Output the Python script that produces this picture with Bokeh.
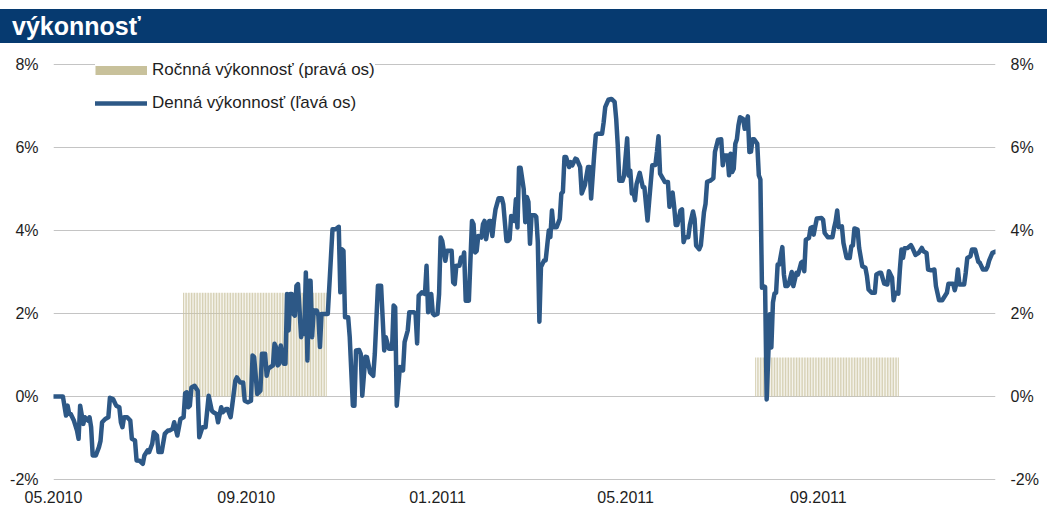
import pandas as pd
from bokeh.plotting import figure
from bokeh.models import (Range1d, FixedTicker, PrintfTickFormatter, DatetimeTickFormatter,
                          LinearAxis, Legend, LegendItem, ColumnDataSource, Div)
from bokeh.layouts import column
from bokeh.embed import file_html
from bokeh.resources import INLINE

TITLE = "výkonnosť"
LEGEND_ROCNA = "Ročnná výkonnosť (pravá os)"
LEGEND_DENNA = "Denná výkonnosť (ľavá os)"

x_start, x_end = "2010-05-01", "2011-12-23"
x_tick_dates = ["2010-05-01", "2010-09-01", "2011-01-01", "2011-05-01", "2011-09-01"]
y_ticks = [-2, 0, 2, 4, 6, 8]

# annual performance (right axis), drawn over a period
rocna_od = ["2010-07-23", "2011-07-23"]
rocna_do = ["2010-10-22", "2011-10-22"]
rocna_hodnota = [2.5, 0.94]

# daily performance (left axis), %
datum = [
    "2010-05-01", "2010-05-07", "2010-05-09", "2010-05-10", "2010-05-11", "2010-05-12", "2010-05-14", "2010-05-16", "2010-05-17", "2010-05-18", "2010-05-20", "2010-05-21", "2010-05-23", "2010-05-24", "2010-05-25", "2010-05-26", "2010-05-28", "2010-05-30", "2010-05-31",
    "2010-06-01", "2010-06-03", "2010-06-05", "2010-06-06", "2010-06-08", "2010-06-10", "2010-06-12", "2010-06-13", "2010-06-14", "2010-06-15", "2010-06-17", "2010-06-19", "2010-06-20", "2010-06-22", "2010-06-23", "2010-06-25", "2010-06-27", "2010-06-28", "2010-06-30",
    "2010-07-01", "2010-07-03", "2010-07-04", "2010-07-06", "2010-07-07", "2010-07-09", "2010-07-11", "2010-07-13", "2010-07-14", "2010-07-16", "2010-07-17", "2010-07-19", "2010-07-20", "2010-07-21", "2010-07-23", "2010-07-24", "2010-07-25", "2010-07-26", "2010-07-27", "2010-07-28", "2010-07-30",
    "2010-08-01", "2010-08-02", "2010-08-04", "2010-08-06", "2010-08-08", "2010-08-10", "2010-08-11", "2010-08-13", "2010-08-14", "2010-08-16", "2010-08-17", "2010-08-19", "2010-08-20", "2010-08-22", "2010-08-23", "2010-08-25", "2010-08-26", "2010-08-28", "2010-08-30", "2010-08-31",
    "2010-09-02", "2010-09-04", "2010-09-05", "2010-09-06", "2010-09-08", "2010-09-10", "2010-09-11", "2010-09-13", "2010-09-14", "2010-09-15", "2010-09-18", "2010-09-19", "2010-09-20", "2010-09-21", "2010-09-22", "2010-09-23", "2010-09-25", "2010-09-26", "2010-09-27", "2010-09-28", "2010-09-29", "2010-09-30",
    "2010-10-01", "2010-10-02", "2010-10-03", "2010-10-04", "2010-10-06", "2010-10-07", "2010-10-08", "2010-10-09", "2010-10-10", "2010-10-11", "2010-10-12", "2010-10-13", "2010-10-14", "2010-10-16", "2010-10-17", "2010-10-18", "2010-10-19", "2010-10-21", "2010-10-23", "2010-10-26", "2010-10-28", "2010-10-30", "2010-10-31",
    "2010-11-01", "2010-11-02", "2010-11-03", "2010-11-05", "2010-11-06", "2010-11-08", "2010-11-09", "2010-11-10", "2010-11-12", "2010-11-13", "2010-11-14", "2010-11-16", "2010-11-17", "2010-11-19", "2010-11-21", "2010-11-22", "2010-11-24", "2010-11-26", "2010-11-28", "2010-11-29",
    "2010-12-01", "2010-12-03", "2010-12-04", "2010-12-05", "2010-12-06", "2010-12-08", "2010-12-10", "2010-12-11", "2010-12-13", "2010-12-14", "2010-12-17", "2010-12-18", "2010-12-19", "2010-12-20", "2010-12-21", "2010-12-22", "2010-12-24", "2010-12-25", "2010-12-26", "2010-12-28", "2010-12-29", "2010-12-30",
    "2011-01-01", "2011-01-02", "2011-01-03", "2011-01-04", "2011-01-06", "2011-01-07", "2011-01-08", "2011-01-10", "2011-01-11", "2011-01-12", "2011-01-13", "2011-01-15", "2011-01-16", "2011-01-17", "2011-01-18", "2011-01-19", "2011-01-21", "2011-01-23", "2011-01-24", "2011-01-25", "2011-01-26", "2011-01-27", "2011-01-29", "2011-01-30", "2011-01-31",
    "2011-02-01", "2011-02-02", "2011-02-03", "2011-02-04", "2011-02-05", "2011-02-06", "2011-02-07", "2011-02-09", "2011-02-11", "2011-02-12", "2011-02-14", "2011-02-15", "2011-02-16", "2011-02-17", "2011-02-18", "2011-02-19", "2011-02-20", "2011-02-21", "2011-02-22", "2011-02-23", "2011-02-25", "2011-02-26", "2011-02-27", "2011-02-28",
    "2011-03-01", "2011-03-02", "2011-03-04", "2011-03-05", "2011-03-06", "2011-03-07", "2011-03-08", "2011-03-10", "2011-03-11", "2011-03-13", "2011-03-14", "2011-03-15", "2011-03-16", "2011-03-18", "2011-03-20", "2011-03-21", "2011-03-22", "2011-03-23", "2011-03-24", "2011-03-26", "2011-03-27", "2011-03-28", "2011-03-30", "2011-03-31",
    "2011-04-02", "2011-04-03", "2011-04-05", "2011-04-07", "2011-04-08", "2011-04-09", "2011-04-11", "2011-04-12", "2011-04-13", "2011-04-16", "2011-04-17", "2011-04-18", "2011-04-20", "2011-04-22", "2011-04-24", "2011-04-25", "2011-04-26", "2011-04-27", "2011-04-29", "2011-04-30",
    "2011-05-02", "2011-05-03", "2011-05-04", "2011-05-05", "2011-05-06", "2011-05-07", "2011-05-08", "2011-05-10", "2011-05-12", "2011-05-13", "2011-05-15", "2011-05-16", "2011-05-18", "2011-05-20", "2011-05-21", "2011-05-22", "2011-05-23", "2011-05-25", "2011-05-26", "2011-05-28", "2011-05-29", "2011-05-30", "2011-05-31",
    "2011-06-01", "2011-06-02", "2011-06-03", "2011-06-05", "2011-06-06", "2011-06-07", "2011-06-08", "2011-06-10", "2011-06-11", "2011-06-13", "2011-06-14", "2011-06-15", "2011-06-17", "2011-06-18", "2011-06-20", "2011-06-21", "2011-06-22", "2011-06-24", "2011-06-26", "2011-06-27", "2011-06-29",
    "2011-07-01", "2011-07-02", "2011-07-03", "2011-07-05", "2011-07-06", "2011-07-07", "2011-07-08", "2011-07-09", "2011-07-10", "2011-07-11", "2011-07-12", "2011-07-13", "2011-07-15", "2011-07-16", "2011-07-18", "2011-07-19", "2011-07-20", "2011-07-21", "2011-07-22", "2011-07-24", "2011-07-25", "2011-07-26", "2011-07-27", "2011-07-28", "2011-07-29", "2011-07-30",
    "2011-08-01", "2011-08-02", "2011-08-03", "2011-08-04", "2011-08-05", "2011-08-06", "2011-08-07", "2011-08-09", "2011-08-10", "2011-08-11", "2011-08-12", "2011-08-13", "2011-08-15", "2011-08-16", "2011-08-18", "2011-08-19", "2011-08-21", "2011-08-22", "2011-08-23", "2011-08-24", "2011-08-26", "2011-08-27", "2011-08-28", "2011-08-29", "2011-08-30", "2011-08-31",
    "2011-09-03", "2011-09-04", "2011-09-05", "2011-09-07", "2011-09-10", "2011-09-11", "2011-09-12", "2011-09-13", "2011-09-14", "2011-09-16", "2011-09-17", "2011-09-19", "2011-09-21", "2011-09-22", "2011-09-23", "2011-09-24", "2011-09-26", "2011-09-27", "2011-09-29",
    "2011-10-01", "2011-10-02", "2011-10-03", "2011-10-05", "2011-10-07", "2011-10-08", "2011-10-10", "2011-10-11", "2011-10-13", "2011-10-15", "2011-10-16", "2011-10-18", "2011-10-19", "2011-10-20", "2011-10-22", "2011-10-23", "2011-10-24", "2011-10-25", "2011-10-26", "2011-10-28", "2011-10-30", "2011-10-31",
    "2011-11-02", "2011-11-04", "2011-11-06", "2011-11-07", "2011-11-09", "2011-11-10", "2011-11-12", "2011-11-14", "2011-11-15", "2011-11-17", "2011-11-19", "2011-11-20", "2011-11-22", "2011-11-23", "2011-11-26", "2011-11-27", "2011-11-28", "2011-11-29", "2011-11-30",
    "2011-12-03", "2011-12-04", "2011-12-05", "2011-12-07", "2011-12-08", "2011-12-10", "2011-12-12", "2011-12-13", "2011-12-15", "2011-12-17", "2011-12-18", "2011-12-19", "2011-12-21", "2011-12-23",
]
denna_vykonnost = [
    0, 0, -0.46, -0.22, -0.42, -0.42, -0.58, -0.82, -1.02, -0.22, -0.66, -0.5, -0.58, -0.5, -0.74, -1.42, -1.42, -1.22, -1.07,
    -0.62, -0.54, -0.5, -0.03, -0.06, -0.22, -0.26, -0.62, -0.74, -0.5, -0.5, -0.58, -1.02, -1.06, -1.54, -1.55, -1.62, -1.42, -1.3,
    -1.34, -1.14, -0.86, -0.94, -1.34, -1.34, -0.9, -0.82, -0.82, -0.78, -0.62, -0.94, -0.74, -0.54, -0.5, 0.08, 0.1, -0.26, -0.22, 0.22, 0.26,
    0.14, -0.98, -0.74, -0.74, 0.02, -0.34, -0.38, -0.42, -0.62, -0.26, -0.38, -0.3, -0.3, -0.5, -0.22, 0.38, 0.46, 0.34, 0.34, -0.1,
    -0.14, -0.1, 0.99, 0.95, 0.06, 0.14, 1.03, 1.03, 0.5, 0.67, 0.75, 1.27, 1.19, 0.75, 0.79, 1.23, 0.79, 0.79, 2.47, 1.59, 2.47, 2.47,
    1.99, 1.95, 2.67, 2.71, 1.43, 1.67, 1.51, 2.99, 0.87, 2.79, 2.79, 1.43, 2.07, 2.07, 1.95, 1.19, 1.99, 1.99, 1.99, 4.03, 4.03, 4.09, 2.51,
    3.55, 3.51, 1.91, 1.91, 1.43, -0.22, -0.22, 1.11, 1.12, 1.03, 0.02, 0.96, 0.95, 0.58, 0.5, 1.03, 2.67, 2.67, 1.11, 1.43,
    1.15, 1.15, 2.19, 2.15, -0.22, 0.71, 0.63, 1.31, 1.59, 2.03, 2.03, 1.99, 1.28, 2.43, 2.47, 2.51, 2.47, 3.15, 2.03, 2.47, 2.0, 1.96,
    1.99, 2.47, 3.83, 3.75, 3.27, 3.51, 3.51, 3.51, 2.75, 2.71, 3.15, 3.15, 3.35, 3.27, 3.47, 2.31, 2.31, 4.23, 4.15, 3.47, 3.51, 3.87, 3.83, 4.15, 4.23,
    3.79, 4.03, 4.23, 4.23, 3.87, 4.23, 4.51, 4.78, 4.78, 4.63, 3.75, 3.75, 3.79, 4.35, 4.31, 4.23, 4.75, 4.07, 5.51, 5.51, 5.0, 4.2, 4.81, 4.69,
    3.68, 4.37, 4.37, 4.33, 3.72, 1.8, 3.12, 3.28, 3.28, 4.0, 3.84, 4.48, 4.08, 4.08, 4.28, 4.89, 4.93, 5.77, 5.77, 5.53, 5.65, 5.57, 5.73, 5.71,
    5.53, 4.89, 5.09, 5.53, 5.53, 4.77, 5.85, 6.3, 6.33, 6.33, 6.61, 6.97, 7.15, 7.17, 7.1, 6.69, 6.05, 5.2, 5.2, 5.32,
    6.22, 5.32, 5.44, 4.89, 4.93, 4.73, 5.12, 5.39, 5.04, 5.04, 4.24, 4.69, 5.57, 5.58, 5.89, 6.27, 5.37, 5.24, 5.17, 5.17, 4.57, 4.85, 4.91,
    4.57, 4.13, 4.13, 4.48, 4.51, 3.72, 3.84, 3.84, 4.13, 4.46, 4.28, 3.64, 3.55, 3.64, 4.44, 4.64, 5.17, 5.2, 5.26, 5.89, 6.19,
    6.2, 5.57, 5.81, 5.81, 5.33, 5.85, 5.41, 5.49, 6.09, 6.2, 6.53, 6.73, 6.69, 6.45, 6.75, 5.89, 5.9, 6.2, 6.2, 6.09, 5.33, 5.23, 2.62, 2.66, 2.64, -0.07,
    1.98, 1.18, 2.26, 2.48, 2.5, 3.18, 3.18, 3.6, 2.94, 2.66, 2.66, 2.7, 3.0, 2.66, 2.98, 2.94, 3.22, 3.25, 3.02, 3.78, 3.82, 4.06, 4.08, 3.9, 4.1, 4.29,
    4.3, 4.26, 3.94, 3.84, 3.84, 4.06, 4.22, 4.48, 4.08, 4.1, 3.7, 3.34, 3.34, 3.62, 3.64, 4.05, 4.02, 3.58, 3.14,
    3.1, 2.9, 2.58, 2.5, 2.5, 2.94, 2.98, 2.98, 2.72, 2.7, 3.02, 2.86, 2.32, 2.5, 2.48, 3.06, 3.54, 3.34, 3.57, 3.58, 3.65, 3.58,
    3.41, 3.46, 3.58, 3.5, 3.46, 3.06, 3.04, 3.06, 2.66, 2.32, 2.32, 2.38, 2.5, 2.72, 2.72, 2.56, 2.72, 3.06, 2.7,
    2.7, 2.98, 3.34, 3.38, 3.54, 3.54, 3.25, 3.22, 3.06, 3.06, 3.14, 3.28, 3.46, 3.49,
]

FONT = "Liberation Sans"
NAVY = "#063a70"
LINE_BLUE = "#2d5886"
BAR_TAN = "#ccc5a2"
SWATCH_TAN = "#c8c19b"
TEXT = "#1e1e1e"
DAY_MS = 86400000
W = 1047

# ---- title bar ----
title_div = Div(
    text=(f'<div style="height:9px;width:{W}px;"></div>'
          f'<div style="background:{NAVY};width:{W}px;height:34px;color:#ffffff;'
          f'font-family:\'{FONT}\',Arial,sans-serif;font-weight:bold;font-size:25px;'
          f'line-height:34px;padding-left:12px;box-sizing:border-box;">{TITLE}</div>'),
    width=W, height=43, margin=(0, 0, 0, 0))

# ---- plot ----
# y range extends a little past the 8 % and -2 % lines so those grid lines are not clipped
p = figure(width=W, height=463, x_axis_type="datetime",
           x_range=Range1d(pd.Timestamp(x_start), pd.Timestamp(x_end)),
           y_range=Range1d(-2.072, 8.265),
           output_backend="svg", toolbar_location=None,
           min_border_left=53, min_border_right=52, min_border_top=10, min_border_bottom=24)
p.outline_line_color = None
p.background_fill_color = "white"
p.border_fill_color = "white"
p.xgrid.visible = False
p.ygrid.ticker = FixedTicker(ticks=y_ticks)
p.ygrid.grid_line_color = "#c4c4c4"
p.ygrid.grid_line_width = 1.2

# annual bars, one thin bar per day of the period
bar_x, bar_top = [], []
for od, do, h in zip(rocna_od, rocna_do, rocna_hodnota):
    for d in pd.date_range(od, do, freq="D"):
        bar_x.append(d)
        bar_top.append(h)
p.vbar(x=bar_x, top=bar_top, bottom=0, width=0.5 * DAY_MS,
       fill_color=BAR_TAN, line_color=None)

# daily performance line
src = ColumnDataSource(dict(x=pd.to_datetime(datum), y=denna_vykonnost))
line_r = p.line(x="x", y="y", source=src, line_color=LINE_BLUE, line_width=4.5,
                line_join="round", line_cap="round")

# legend proxy for the annual bars (solid swatch); a single point draws no line
swatch = p.line(x=[pd.Timestamp(rocna_od[0])], y=[rocna_hodnota[0]],
                line_color=SWATCH_TAN, line_width=9, line_cap="butt")

legend = Legend(items=[LegendItem(label=LEGEND_ROCNA, renderers=[swatch]),
                       LegendItem(label=LEGEND_DENNA, renderers=[line_r])],
                location=(42, 369), orientation="vertical",
                glyph_width=52, glyph_height=20, label_height=20, spacing=13,
                label_standoff=5, padding=27, margin=0,
                border_line_color=None, background_fill_color="white",
                background_fill_alpha=1.0,
                label_text_font=FONT, label_text_font_size="17px",
                label_text_color=TEXT)
p.add_layout(legend)

# axes
fmt = PrintfTickFormatter(format="%d%%")
for ax in p.yaxis:
    ax.ticker = FixedTicker(ticks=y_ticks)
    ax.formatter = fmt
right_axis = LinearAxis(ticker=FixedTicker(ticks=y_ticks), formatter=fmt)
p.add_layout(right_axis, "right")

tick_ms = [int(pd.Timestamp(d).value // 10**6) for d in x_tick_dates]
p.xaxis.ticker = FixedTicker(ticks=tick_ms)
p.xaxis.formatter = DatetimeTickFormatter(
    milliseconds="%m.%Y", seconds="%m.%Y", minsec="%m.%Y", minutes="%m.%Y",
    hourmin="%m.%Y", hours="%m.%Y", days="%m.%Y", months="%m.%Y", years="%m.%Y")

for ax in p.xaxis + p.yaxis + [right_axis]:
    ax.axis_line_color = None
    ax.major_tick_line_color = None
    ax.minor_tick_line_color = None
    ax.major_tick_out = 0
    ax.major_tick_in = 0
    ax.minor_tick_out = 0
    ax.major_label_text_font = FONT
    ax.major_label_text_font_size = "16px"
    ax.major_label_text_color = TEXT
for ax in p.yaxis + [right_axis]:
    ax.major_label_standoff = 15
p.xaxis.major_label_standoff = 8

layout = column(title_div, p, spacing=0)

with open("out.html", "w", encoding="utf-8") as f:
    f.write(file_html(layout, INLINE))
